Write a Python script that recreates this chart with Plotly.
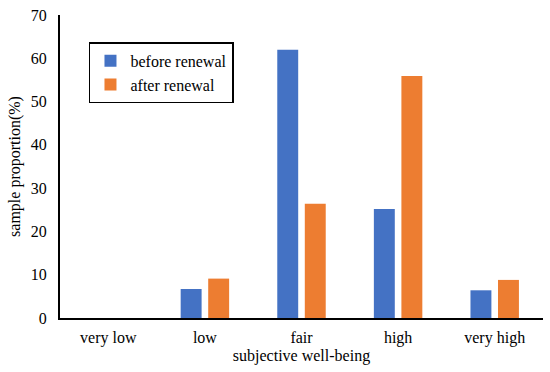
import plotly.graph_objects as go

categories = ["very low", "low", "fair", "high", "very high"]
before_renewal = [0, 6.7, 62.0, 25.2, 6.4]
after_renewal = [0, 9.1, 26.4, 55.9, 8.8]
y_ticks = [0, 10, 20, 30, 40, 50, 60, 70]

FONT = "Liberation Serif"

fig = go.Figure()
fig.add_trace(go.Bar(x=categories, y=before_renewal, name="before renewal",
                     marker=dict(color="#4472C4", line=dict(width=0))))
fig.add_trace(go.Bar(x=categories, y=after_renewal, name="after renewal",
                     marker=dict(color="#ED7D31", line=dict(width=0))))

fig.update_layout(
    width=550, height=372,
    margin=dict(l=60, r=7, t=15, b=54),
    paper_bgcolor="white", plot_bgcolor="white",
    barmode="group", bargap=0.43, bargroupgap=0.24,
    font=dict(family=FONT, size=16, color="black"),
    showlegend=True,
    legend=dict(x=0.06, y=0.91, xanchor="left", yanchor="top",
                bordercolor="black", borderwidth=1.5, bgcolor="white",
                font=dict(family=FONT, size=16), tracegroupgap=0,
                itemwidth=30),
    xaxis=dict(showline=True, linecolor="black", linewidth=2, ticks="",
               showgrid=False, tickfont=dict(size=16), automargin=False,
               ticklabelstandoff=4,
               title=dict(text="subjective well-being", font=dict(size=16), standoff=4)),
    yaxis=dict(range=[0, 70], tickvals=y_ticks, showline=True, linecolor="black",
               linewidth=2, ticks="", showgrid=False, zeroline=False,
               tickfont=dict(size=16), ticklabelstandoff=8, automargin=False,
               title=dict(text="sample proportion(%)", font=dict(size=16), standoff=6)),
)

fig.write_html("out.html", config={"displayModeBar": False},
               post_script="document.body.style.margin='0';")
